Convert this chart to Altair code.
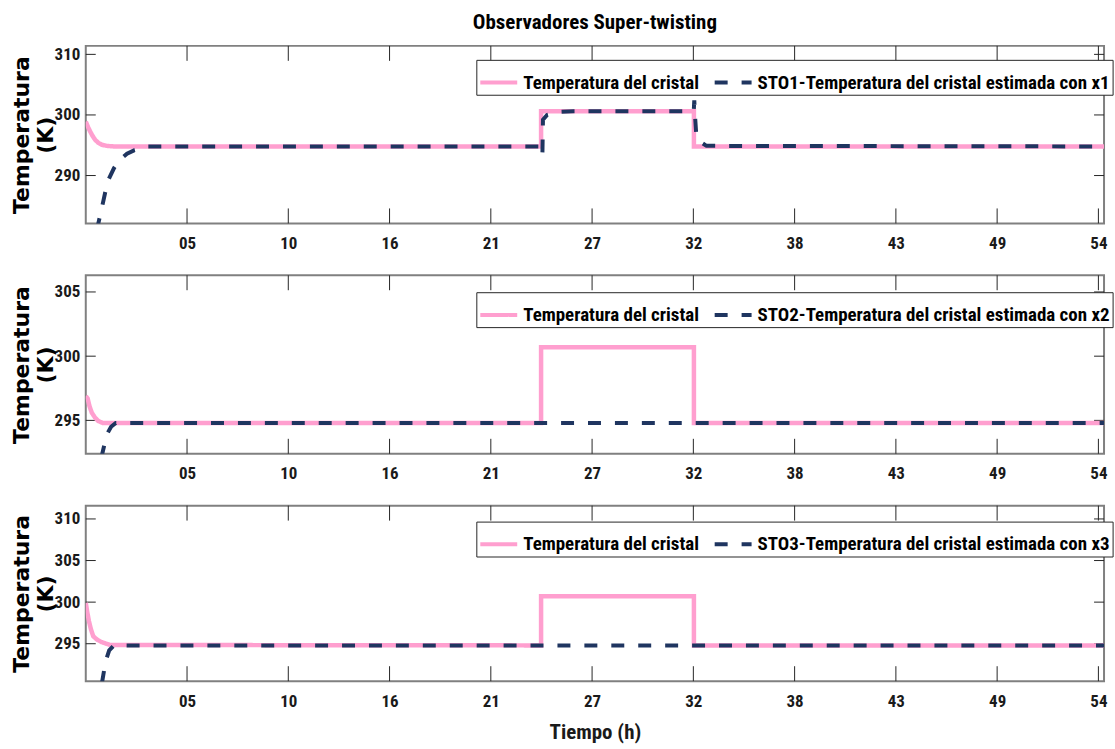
import altair as alt
import pandas as pd

# ---- fonts / colours -------------------------------------------------------
FONT_N = "Roboto Condensed, Liberation Sans Narrow, DejaVu Sans Condensed, sans-serif"
FONT_Y = "DejaVu Sans"
PINK = "#ff9fcf"
NAVY = "#1f3560"
FRAME = "#808080"
TICK = "#262626"

# ---- shared x axis (hours) ------------------------------------------------
X_DOMAIN = [0, 54.3]
X_TICKS = [5.4, 10.8, 16.2, 21.6, 27.0, 32.4, 37.8, 43.2, 48.6, 54.0]
X_LABELS = ["05", "10", "16", "21", "27", "32", "38", "43", "49", "54"]

TEMP_NAME = "Temperatura del cristal"

# ---- panel 1: STO1 ---------------------------------------------------------
TEMP1_T = [0.0, 0.12, 0.23, 0.35, 0.5, 0.67, 0.84, 1.1, 1.5, 24.28, 24.28, 32.43, 32.43, 54.3]
TEMP1_V = [298.9, 298.0, 297.3, 296.6, 295.9, 295.4, 295.1, 294.9, 294.8, 294.8, 300.6, 300.6, 294.8, 294.8]
STO1_T = [0.3, 0.67, 0.93, 1.16, 1.5, 1.81, 2.2, 2.6, 3.3, 24.2, 24.35, 24.38, 24.6, 25.2, 26.0,
          32.42, 32.45, 32.48, 32.55, 32.8, 33.1, 54.3]
STO1_V = [276.5, 282.1, 285.7, 289.0, 291.2, 292.6, 293.6, 294.2, 294.8, 294.8, 293.3, 299.2, 300.0, 300.5, 300.6,
          300.6, 302.4, 300.3, 297.0, 295.5, 294.9, 294.8]
STO1_NAME = "STO1-Temperatura del cristal estimada con x1"
Y1_DOMAIN = [282.1, 311.4]
Y1_TICKS = [290, 300, 310]

# ---- panel 2: STO2 ---------------------------------------------------------
TEMP2_T = [0.0, 0.1, 0.2, 0.32, 0.5, 0.67, 0.9, 24.28, 24.28, 32.43, 32.43, 54.3]
TEMP2_V = [296.9, 296.7, 296.1, 295.6, 295.2, 294.95, 294.8, 294.8, 300.7, 300.7, 294.8, 294.8]
STO2_T = [0.5, 0.88, 1.12, 1.35, 1.6, 54.3]
STO2_V = [290.0, 292.4, 293.9, 294.5, 294.8, 294.8]
STO2_NAME = "STO2-Temperatura del cristal estimada con x2"
Y2_DOMAIN = [292.4, 306.3]
Y2_TICKS = [295, 300, 305]

# ---- panel 3: STO3 ---------------------------------------------------------
TEMP3_T = [0.0, 0.08, 0.17, 0.28, 0.4, 0.6, 0.84, 1.3, 24.28, 24.28, 32.43, 32.43, 54.3]
TEMP3_V = [299.9, 298.8, 297.7, 296.7, 295.9, 295.5, 295.2, 294.85, 294.8, 300.7, 300.7, 294.8, 294.8]
STO3_T = [0.6, 0.88, 1.06, 1.25, 1.5, 54.3]
STO3_V = [287.0, 290.5, 292.9, 294.2, 294.8, 294.8]
STO3_NAME = "STO3-Temperatura del cristal estimada con x3"
Y3_DOMAIN = [290.5, 311.6]
Y3_TICKS = [295, 300, 305, 310]

WIDTH = 1021
LABEL_EXPR = "[" + ",".join("'%s'" % s for s in X_LABELS) + "][round(datum.value / 5.4) - 1]"


def series_frame(ts, vs, name):
    return pd.DataFrame({"t": ts, "v": vs, "i": list(range(len(ts))), "serie": name})


def panel(temp_t, temp_v, sto_t, sto_v, sto_name, y_domain, y_ticks, height,
          legend_y, title=None, x_title=None):
    x_axis = alt.Axis(values=X_TICKS, labelExpr=LABEL_EXPR, ticks=False, domain=False, grid=False,
                      labelFont=FONT_N, labelFontSize=17, labelFontWeight="bold",
                      labelColor="#1a1a1a", labelPadding=12,
                      title=x_title, titleFont=FONT_N, titleFontSize=21, titleFontWeight="bold",
                      titleColor="#1a1a1a", titlePadding=12)
    y_axis = alt.Axis(values=y_ticks, ticks=False, domain=False, grid=False,
                      labelFont=FONT_N, labelFontSize=17, labelFontWeight="bold",
                      labelColor="#1a1a1a", labelPadding=6,
                      title=["Temperatura", "(K)"], titleFont=FONT_Y, titleFontSize=22,
                      titleFontWeight="bold", titleColor="black", titleAngle=270,
                      titleX=-74, titleY=height / 2, titleAlign="center", titleBaseline="top",
                      titleLineHeight=24)
    x = alt.X("t:Q", scale=alt.Scale(domain=X_DOMAIN, nice=False, zero=False), axis=x_axis)
    y = alt.Y("v:Q", scale=alt.Scale(domain=y_domain, nice=False, zero=False), axis=y_axis)

    names = [TEMP_NAME, sto_name]
    legend = alt.Legend(title=None, orient="none", legendX=391.6, legendY=legend_y,
                        direction="horizontal", symbolType="stroke", symbolSize=1369,
                        symbolStrokeWidth=4, labelFont=FONT_N, labelFontSize=19,
                        labelFontWeight="bold", labelColor="black", labelLimit=0,
                        labelOffset=4, columnPadding=7, padding=2,
                        strokeColor=TICK, fillColor="white")
    color = alt.Color("serie:N", scale=alt.Scale(domain=names, range=[PINK, NAVY]), legend=legend)
    dash = alt.StrokeDash("serie:N", scale=alt.Scale(domain=names, range=[[1, 0], [13, 14]]),
                          legend=legend)

    temp_line = alt.Chart(series_frame(temp_t, temp_v, TEMP_NAME)).mark_line(
        strokeWidth=4.5, clip=True).encode(x=x, y=y, color=color, strokeDash=dash,
                                            order="i:Q")
    sto_line = alt.Chart(series_frame(sto_t, sto_v, sto_name)).mark_line(
        strokeWidth=4, clip=True).encode(x=x, y=y, color=color, strokeDash=dash, order="i:Q")

    xt = alt.Chart(pd.DataFrame({"t": X_TICKS}))
    yt = alt.Chart(pd.DataFrame({"v": y_ticks}))
    tick = dict(color=TICK, strokeWidth=1)
    x_ticks_bottom = xt.mark_rule(**tick).encode(x=x, y=alt.value(height), y2=alt.value(height - 15))
    x_ticks_top = xt.mark_rule(**tick).encode(x=x, y=alt.value(0), y2=alt.value(15))
    y_ticks_left = yt.mark_rule(**tick).encode(y=y, x=alt.value(0), x2=alt.value(10))
    y_ticks_right = yt.mark_rule(**tick).encode(y=y, x=alt.value(WIDTH), x2=alt.value(WIDTH - 10))

    layer = alt.layer(x_ticks_bottom, x_ticks_top, y_ticks_left, y_ticks_right,
                      temp_line, sto_line).properties(width=WIDTH, height=height)
    if title is not None:
        layer = layer.properties(title=alt.TitleParams(
            title, font=FONT_N, fontSize=21, fontWeight="bold", color="black",
            anchor="middle", frame="group", offset=12))
    return layer


p1 = panel(TEMP1_T, TEMP1_V, STO1_T, STO1_V, STO1_NAME, Y1_DOMAIN, Y1_TICKS, 178, 14,
           title="Observadores Super-twisting")
p2 = panel(TEMP2_T, TEMP2_V, STO2_T, STO2_V, STO2_NAME, Y2_DOMAIN, Y2_TICKS, 179, 17)
p3 = panel(TEMP3_T, TEMP3_V, STO3_T, STO3_V, STO3_NAME, Y3_DOMAIN, Y3_TICKS, 176, 16,
           x_title="Tiempo (h)")

chart = alt.vconcat(p1, p2, p3, spacing=52, bounds="flush").resolve_scale(
    color="independent", strokeDash="independent", y="independent"
).resolve_legend(
    color="independent", strokeDash="independent"
).properties(
    padding={"left": 10, "top": 10, "right": 0, "bottom": 0},
    background="white",
).configure_view(stroke=FRAME, strokeWidth=2)

chart.save("out.html", embed_options={"renderer": "svg", "actions": False})
